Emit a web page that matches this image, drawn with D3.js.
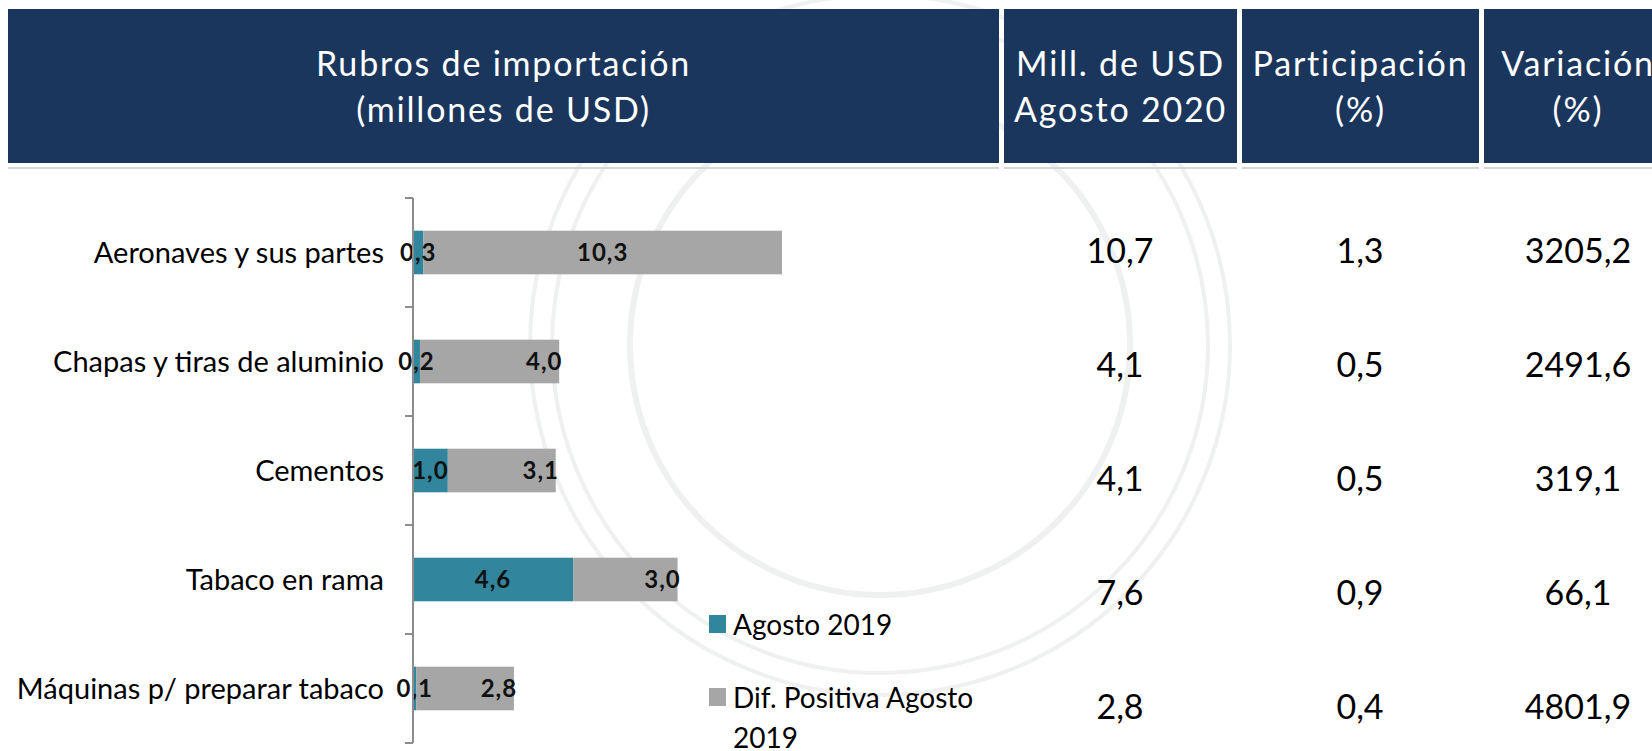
<!DOCTYPE html>
<html>
<head>
<meta charset="utf-8">
<script src="https://cdn.jsdelivr.net/npm/d3@7"></script>
<style>
  body { margin: 0; background: #fff; }
  svg { display: block; font-family: Lato, "Noto Sans", sans-serif; }
</style>
</head>
<body>
<svg id="chart" width="1652" height="751"></svg>
<script>
// data
const categories = ['Aeronaves y sus partes', 'Chapas y tiras de aluminio', 'Cementos', 'Tabaco en rama', 'Máquinas p/ preparar tabaco'];
const agosto2019 = [0.3, 0.2, 1.0, 4.6, 0.1];
const difPositiva = [10.3, 4.0, 3.1, 3.0, 2.8];
const millUSD = [10.7, 4.1, 4.1, 7.6, 2.8];
const participacion = [1.3, 0.5, 0.5, 0.9, 0.4];
const variacion = [3205.2, 2491.6, 319.1, 66.1, 4801.9];
const seriesNames = ['Agosto 2019', 'Dif. Positiva Agosto 2019'];
const headers = [
  ['Rubros de importación', '(millones de USD)'],
  ['Mill. de USD', 'Agosto 2020'],
  ['Participación', '(%)'],
  ['Variación', '(%)']
];

const navy = '#1b365d';
const teal = '#31859c';
const grey = '#a6a6a6';

const locale = d3.formatLocale({ decimal: ',', thousands: '', grouping: [3], currency: ['', ''] });
const fmt = locale.format('.1f');

const svg = d3.select('#chart');

// faint seal watermark behind everything
const seal = svg.append('g').attr('class', 'seal')
  .attr('fill', 'none').attr('stroke', '#eef1f0');
[350, 328, 250].forEach(r => seal.append('circle')
  .attr('cx', 880).attr('cy', 345).attr('r', r)
  .attr('stroke-width', r === 250 ? 6 : 4));

// header panels
const colEdges = [8, 1004, 1242, 1484, 1672];
const header = svg.append('g').attr('class', 'header');
headers.forEach((lines, i) => {
  const x0 = colEdges[i], x1 = colEdges[i + 1] - (i < 3 ? 5 : 0);
  header.append('rect')
    .attr('x', x0).attr('y', 9)
    .attr('width', x1 - x0).attr('height', 154)
    .attr('fill', navy);
  header.append('rect')
    .attr('x', x0).attr('y', 167)
    .attr('width', x1 - x0).attr('height', 2)
    .attr('fill', '#d3d7dc');
  header.selectAll(null).data(lines).join('text')
    .attr('x', (x0 + x1) / 2)
    .attr('y', (d, j) => 76 + j * 46)
    .attr('text-anchor', 'middle')
    .attr('fill', '#fff')
    .attr('font-size', 34)
    .attr('letter-spacing', 1.8)
    .text(d => d);
});

// stacked bar chart
const totals = agosto2019.map((v, i) => v + difPositiva[i]);
const x = d3.scaleLinear().domain([0, d3.max(totals)]).range([413, 782]);
const y = d3.scaleBand().domain(categories).range([198, 743])
  .paddingInner(0.6).paddingOuter(0.3);

const chart = svg.append('g').attr('class', 'bars');

const rows = categories.map((c, i) => ({
  cat: c,
  segs: [
    { s: 0, v0: 0, v1: agosto2019[i], val: agosto2019[i] },
    { s: 1, v0: agosto2019[i], v1: totals[i], val: difPositiva[i] }
  ]
}));

const rowG = chart.selectAll('.row').data(rows).join('g')
  .attr('class', 'row')
  .attr('transform', d => `translate(0,${y(d.cat)})`);

rowG.selectAll('rect').data(d => d.segs).join('rect')
  .attr('x', d => x(d.v0))
  .attr('y', 0)
  .attr('width', d => x(d.v1) - x(d.v0))
  .attr('height', y.bandwidth())
  .attr('fill', d => d.s === 0 ? teal : grey);

rowG.selectAll('text.val').data(d => d.segs).join('text')
  .attr('class', 'val')
  .attr('x', d => {
    const w = x(d.v1) - x(d.v0);
    if (d.s === 0 || w > 200) return (x(d.v0) + x(d.v1)) / 2;
    return x(d.v1) - 15;
  })
  .attr('y', y.bandwidth() / 2)
  .attr('dy', '0.36em')
  .attr('text-anchor', 'middle')
  .attr('font-size', 24)
  .attr('font-weight', 700)
  .attr('letter-spacing', 1)
  .attr('fill', '#111')
  .text(d => fmt(d.val));

// category axis with ticks between categories
const axis = svg.append('g').attr('class', 'axis');
const step = y.step();
const tickYs = d3.range(categories.length + 1).map(i => y.range()[0] + i * step);
axis.append('line')
  .attr('x1', x(0)).attr('x2', x(0))
  .attr('y1', tickYs[0]).attr('y2', tickYs[tickYs.length - 1])
  .attr('stroke', '#8c8c8c').attr('stroke-width', 2);
axis.selectAll('line.tick').data(tickYs).join('line')
  .attr('class', 'tick')
  .attr('x1', x(0) - 8).attr('x2', x(0))
  .attr('y1', d => d).attr('y2', d => d)
  .attr('stroke', '#8c8c8c').attr('stroke-width', 2);
axis.selectAll('text').data(categories).join('text')
  .attr('x', x(0) - 29)
  .attr('y', d => y(d) + y.bandwidth() / 2)
  .attr('dy', '0.36em')
  .attr('text-anchor', 'end')
  .attr('font-size', 29)
  .attr('fill', '#000')
  .text(d => d);

// legend
const legend = svg.append('g').attr('class', 'legend').attr('transform', 'translate(709,0)');
const legendRows = [
  { color: teal, lines: ['Agosto 2019'], base: 635 },
  { color: grey, lines: ['Dif. Positiva Agosto', '2019'], base: 708 }
];
legendRows.forEach((r, i) => {
  legend.append('rect')
    .attr('x', 0).attr('y', r.base - 20)
    .attr('width', 17).attr('height', 18)
    .attr('fill', r.color)
    .append('title').text(seriesNames[i]);
  legend.selectAll(null).data(r.lines).join('text')
    .attr('x', 24)
    .attr('y', (d, j) => r.base + j * 40)
    .attr('font-size', 28)
    .attr('fill', '#000')
    .text(d => d);
});

// table columns
const rowY = d3.scaleBand().domain(categories).range([194, 764]);
const columns = [millUSD, participacion, variacion];
const colCenters = [1120, 1360, 1578];
const table = svg.append('g').attr('class', 'table');
columns.forEach((vals, ci) => {
  table.selectAll(null).data(vals).join('text')
    .attr('x', colCenters[ci])
    .attr('y', (d, i) => rowY(categories[i]) + rowY.bandwidth() / 2)
    .attr('dy', '0.36em')
    .attr('text-anchor', 'middle')
    .attr('font-size', 34)
    .attr('fill', '#000')
    .text(d => fmt(d));
});
</script>
</body>
</html>
